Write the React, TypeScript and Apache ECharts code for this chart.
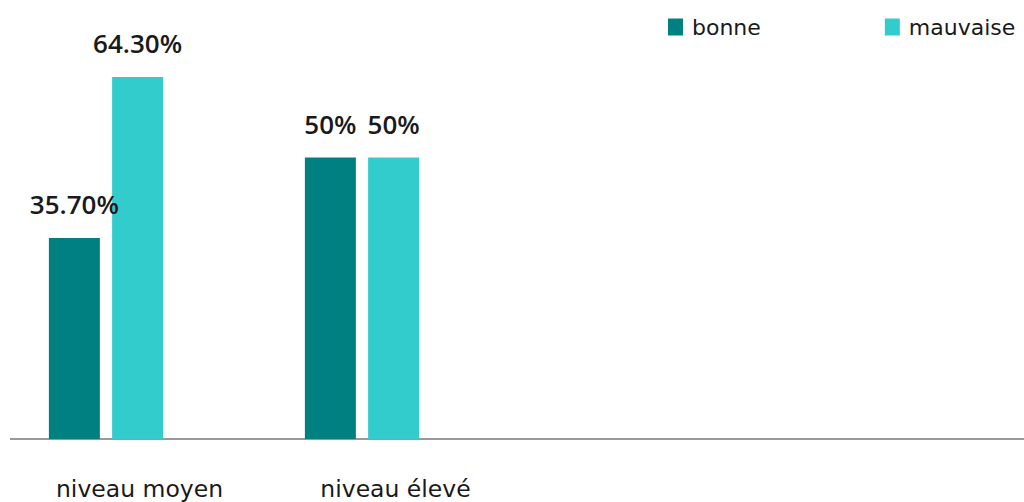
import React, { useEffect, useRef } from "react";
import * as echarts from "echarts";

const categories = ["niveau moyen", "niveau élevé", "", ""];
const bonne = [35.7, 50, null, null];
const mauvaise = [64.3, 50, null, null];
const bonneLabels = ["35.70%", "50%"];
const mauvaiseLabels = ["64.30%", "50%"];

const SHIFT = 22;

export default function App() {
  const ref = useRef<HTMLDivElement>(null);
  useEffect(() => {
    if (!ref.current) return;
    const chart = echarts.init(ref.current, null, { renderer: "svg" });
    const labelStyle = {
      show: true,
      position: "top" as const,
      distance: 21,
      fontFamily: "Open Sans",
      fontWeight: 600,
      fontSize: 26,
      color: "#1a1a1a",
    };
    chart.setOption({
      animation: false,
      backgroundColor: "#ffffff",
      legend: {
        left: 663 + SHIFT,
        top: 11,
        itemWidth: 15,
        itemHeight: 17,
        itemGap: 124,
        icon: "rect",
        textStyle: { fontFamily: "DejaVu Sans", fontSize: 22, color: "#1a1a1a", padding: [0, 0, 0, 4] },
        data: ["bonne", "mauvaise"],
      },
      grid: { left: 0, right: 2 * SHIFT, top: 45, bottom: 63, containLabel: false },
      xAxis: {
        type: "category",
        data: categories,
        axisLine: { show: false },
        axisTick: { show: false },
        axisLabel: {
          interval: 0,
          margin: 37,
          padding: [0, 0, 0, 67],
          fontFamily: "DejaVu Sans",
          fontSize: 23.5,
          lineHeight: 26,
          color: "#1a1a1a",
        },
      },
      yAxis: { type: "value", min: 0, max: 70, show: false, splitLine: { show: false } },
      graphic: [
        {
          type: "line",
          shape: { x1: 10 + SHIFT, y1: 439, x2: 1024 + SHIFT, y2: 439 },
          style: { stroke: "#999999", lineWidth: 2 },
        },
      ],
      series: [
        {
          name: "bonne",
          type: "bar",
          data: bonne,
          barWidth: 51,
          barGap: "24%",
          itemStyle: { color: "#008080" },
          label: { ...labelStyle, formatter: (p: any) => bonneLabels[p.dataIndex] ?? "" },
        },
        {
          name: "mauvaise",
          type: "bar",
          data: mauvaise,
          barWidth: 51,
          itemStyle: { color: "#33CCCC" },
          label: { ...labelStyle, formatter: (p: any) => mauvaiseLabels[p.dataIndex] ?? "" },
        },
      ],
    });
    return () => chart.dispose();
  }, []);
  return (
    <div style={{ position: "absolute", left: 0, top: 0, width: 1024, height: 502, overflow: "hidden" }}>
      <div ref={ref} style={{ width: 1024 + 2 * SHIFT, height: 502, position: "absolute", left: -SHIFT, top: 0 }} />
    </div>
  );
}
